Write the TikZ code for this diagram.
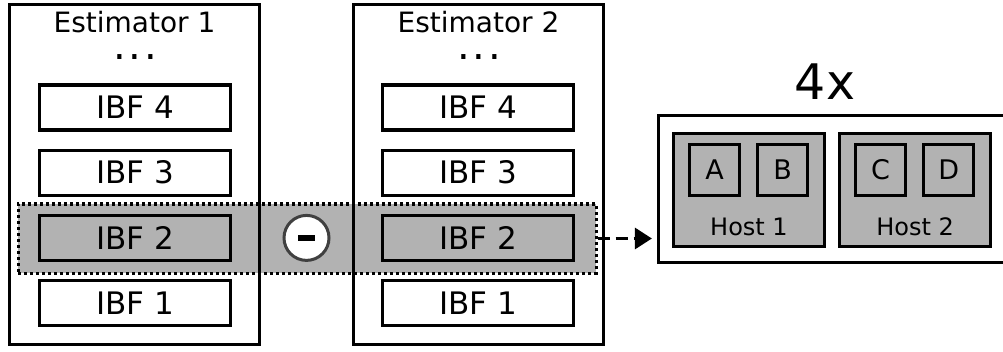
\documentclass[tikz,border=0pt]{standalone}
\usepackage{fontspec}
\setmainfont{DejaVu Sans}
\usetikzlibrary{positioning,calc,arrows.meta}

\tikzset{
  estbox/.style={draw, line width=3.2pt, minimum width=250pt, minimum height=340pt},
  estlabel/.style={inner sep=0pt, font=\fontsize{28}{28}\selectfont},
  dotslabel/.style={inner sep=0pt, font=\fontsize{40}{40}\selectfont},
  ibf/.style={draw, line width=3.2pt, fill=white, minimum width=191pt, minimum height=45pt,
    inner sep=0pt, font=\fontsize{31}{31}\selectfont},
  ibfsel/.style={ibf, fill=black!30},
  band/.style={draw, line width=3pt, dash pattern=on 3pt off 3pt, fill=black!30,
    minimum width=578pt, minimum height=69pt},
  minus/.style={circle, draw=black!75, line width=3pt, fill=white, minimum size=45pt, inner sep=0pt},
  frame/.style={draw, line width=3.2pt, fill=white, minimum width=348pt, minimum height=147pt},
  host/.style={draw, line width=3.2pt, fill=black!30, minimum width=151pt, minimum height=113pt},
  hostlabel/.style={inner sep=0pt, font=\fontsize{24}{24}\selectfont},
  part/.style={draw, line width=3.2pt, fill=black!30, minimum width=50pt, minimum height=51pt,
    inner sep=0pt, font=\fontsize{27}{27}\selectfont},
  flow/.style={line width=3.2pt, dash pattern=on 12pt off 6pt, -{Triangle[length=17pt,width=21pt]}},
}
\newcommand{\vdotsrow}{.\kern2.8pt.\kern2.8pt.}

\begin{document}
\begin{tikzpicture}[x=1pt,y=1pt]
\useasboundingbox (0,0) rectangle (1003,351);

% selected level across both estimators
\node[band] (band) at (307,112.5) {};

% Estimators
\node[estbox] (est1) at (134.5,176.5) {};
\node[estbox] (est2) at (478.5,176.5) {};
\node[estlabel] (est1name) at (134.5,329) {Estimator 1};
\node[estlabel] (est2name) at (478.5,329) {Estimator 2};
\node[dotslabel] (est1dots) at (135,293.5) {\vdotsrow};
\node[dotslabel] (est2dots) at (479,293.5) {\vdotsrow};

% IBF stack of estimator 1
\node[ibf] (e1ibf4) at (135,243.5) {IBF 4};
\node[ibf, below=17pt of e1ibf4] (e1ibf3) {IBF 3};
\node[ibfsel, below=17pt of e1ibf3] (e1ibf2) {IBF 2};
\node[ibf, below=17pt of e1ibf2] (e1ibf1) {IBF 1};
% IBF stack of estimator 2
\node[ibf] (e2ibf4) at (478,243.5) {IBF 4};
\node[ibf, below=17pt of e2ibf4] (e2ibf3) {IBF 3};
\node[ibfsel, below=17pt of e2ibf3] (e2ibf2) {IBF 2};
\node[ibf, below=17pt of e2ibf2] (e2ibf1) {IBF 1};

% difference of the two IBFs
\node[minus] (diff) at ($(e1ibf2)!0.5!(e2ibf2)$) {\rule{17pt}{6pt}};

% Hosts
\node[font=\fontsize{49}{49}\selectfont, inner sep=0pt] (times) at (825,269) {4x};
\node[frame] (hosts) at (832.5,162) {};
\node[host] (host1) at (749,161) {};
\node[host, right=12pt of host1] (host2) {};
\node[hostlabel, above=12pt of host1.south] (host1name) {Host 1};
\node[hostlabel, above=12pt of host2.south] (host2name) {Host 2};
\node[part] (pa) at (714.5,181) {A};
\node[part, right=15pt of pa] (pb) {B};
\node[part] (pc) at (880.5,181) {C};
\node[part, right=15pt of pc] (pd) {D};

\draw[flow, shorten >=5pt] (band.east) -- (band.east -| hosts.west);
\end{tikzpicture}
\end{document}
